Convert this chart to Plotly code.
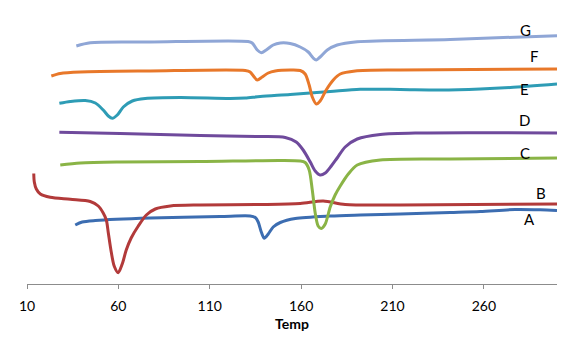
import plotly.graph_objects as go

# ---- data (temperature, arbitrary signal) ----
A_temp = [36.4, 40.2, 47.4, 77.4, 115.7, 132.1, 134.9, 136.5, 138.2, 139.8, 142.0, 144.7, 148.6, 156.8, 175.9, 192.3, 214.2, 241.6, 258.0, 277.1, 290.8, 300]
A_val  = [59, 62, 63.5, 66, 67.5, 68, 66.5, 62, 52, 45.7, 50, 57, 61.5, 65.5, 68, 69, 70, 71.5, 72.5, 74.5, 74.2, 73.5]

B_temp = [13.7, 14.0, 15.1, 17.3, 22.7, 33.7, 44.6, 49.0, 51.7, 53.4, 54.5, 56.1, 57.7, 59.9, 62.1, 64.3, 67.0, 70.9, 75.3, 80.2, 88.4, 104.8, 137.6, 159.5, 172.1, 184.1, 214.2, 300]
B_val  = [110.5, 102, 95, 90, 86.7, 84.7, 82.5, 78, 71, 64, 51, 32, 18, 11.3, 20, 34, 46, 58, 69, 75, 78, 79, 79.5, 80.5, 83, 79.5, 79, 80]

C_temp = [28.2, 39.2, 61.0, 104.8, 148.6, 159.5, 162.2, 164.4, 166.1, 167.7, 169.3, 171.0, 173.2, 175.9, 178.6, 181.4, 185.8, 190.7, 203.3, 241.6, 300]
C_val  = [119, 121, 122, 122.5, 123.5, 123, 121.5, 114, 94, 71, 58, 55.5, 60, 77, 89, 98, 110, 119, 124, 125, 126]

D_temp = [27.7, 61.0, 104.8, 137.6, 151.3, 157.3, 161.1, 165.0, 167.7, 170.4, 173.2, 176.5, 179.7, 184.1, 190.7, 203.3, 225.1, 300]
D_val  = [151.7, 150.5, 148.5, 147.5, 146.5, 142, 134, 122, 113, 109, 111, 118, 126, 137, 145, 149.5, 151, 151]

E_temp = [27.7, 33.7, 41.9, 47.4, 51.7, 54.5, 56.7, 59.4, 62.7, 67.6, 74.7, 93.9, 121.2, 129.4, 137.6, 154.0, 175.9, 192.3, 214.2, 236.1, 258.0, 274.4, 300]
E_val  = [180.7, 182.5, 183.5, 181, 174, 168, 165.7, 169, 177, 183, 185.5, 186.5, 185.5, 186, 187.5, 189.5, 192.5, 194.7, 194.5, 194, 195, 196.5, 200]

F_temp = [23.3, 28.2, 39.2, 77.4, 129.4, 132.1, 134.3, 136.0, 138.7, 142.0, 145.8, 154.0, 159.5, 162.2, 164.4, 166.1, 168.3, 170.4, 173.7, 177.6, 181.4, 189.6, 214.2, 300]
F_val  = [208, 210.5, 212, 213, 213.5, 212, 207, 204, 207, 211, 213, 214, 213.5, 210, 199, 187, 180, 183, 194, 204, 210, 213, 214, 215]

G_temp = [37.0, 44.6, 77.4, 131.0, 133.2, 136.0, 138.2, 140.9, 144.7, 148.6, 154.0, 159.5, 163.9, 166.6, 168.3, 170.4, 174.3, 179.7, 190.7, 241.6, 300]
G_val  = [238, 241.3, 242, 242.5, 241, 234, 231.3, 234, 239, 241, 240.5, 237, 232, 226, 224, 227, 234, 239, 242.3, 244.5, 248.3]

series_names = ["A", "B", "C", "D", "E", "F", "G"]
series_temps = [A_temp, B_temp, C_temp, D_temp, E_temp, F_temp, G_temp]
series_vals = [A_val, B_val, C_val, D_val, E_val, F_val, G_val]
series_colors = ["#3C6DB1", "#B23A3A", "#8AB446", "#6F4A9C", "#2E9CB5", "#E8782A", "#8FA6D6"]

label_temps = [284.8, 291.4, 282.6, 282.0, 282.0, 287.5, 282.6]
label_vals = [65, 91, 131, 164, 195, 228, 254]

x_ticks = [10, 60, 110, 160, 210, 260]

fig = go.Figure()
for name, t, v, c in zip(series_names, series_temps, series_vals, series_colors):
    fig.add_trace(go.Scatter(x=t, y=v, mode="lines", name=name,
                             line=dict(color=c, width=3, shape="spline", smoothing=0.8)))

for name, t, v in zip(series_names, label_temps, label_vals):
    fig.add_annotation(x=t, y=v, text=name, showarrow=False,
                       font=dict(family="Lato", size=15, color="#000000"))

fig.update_layout(
    width=579, height=347,
    margin=dict(l=19, r=30, t=12, b=71),
    paper_bgcolor="white", plot_bgcolor="white",
    showlegend=False,
    font=dict(family="Lato", size=14, color="#000000"),
    xaxis=dict(range=[10, 300], tickvals=x_ticks, showgrid=False, zeroline=False,
               showline=True, linecolor="#8C8C8C", linewidth=1,
               ticks="outside", ticklen=4, tickcolor="#8C8C8C",
               ticklabelstandoff=5,
               tickfont=dict(family="Lato", size=14),
               title=dict(text="<b>Temp</b>", font=dict(family="Lato", size=14), standoff=6)),
    yaxis=dict(range=[0, 264], visible=False),
)

fig.write_html("out.html")
